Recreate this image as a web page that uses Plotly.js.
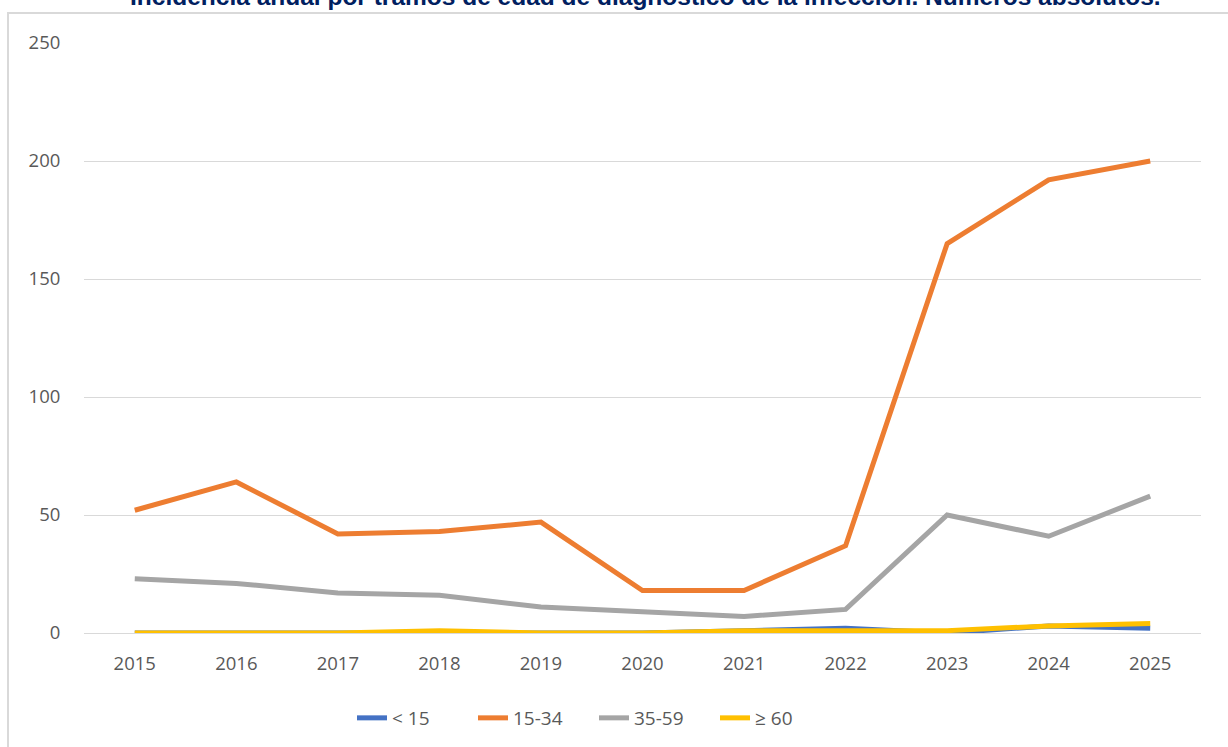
<!DOCTYPE html>
<html>
<head>
<meta charset="utf-8">
<script src="https://cdn.plot.ly/plotly-3.0.1.min.js"></script>
<style>
html,body{margin:0;padding:0;background:#fff;}
#chart{width:1228px;height:747px;}
</style>
</head>
<body>
<div id="chart"></div>
<script>
const years = ["2015","2016","2017","2018","2019","2020","2021","2022","2023","2024","2025"];
const seriesNames = ["< 15", "15-34", "35-59", "≥ 60"];
const under15 = [0, 0, 0, 0, 0, 0, 1, 2, 0, 3, 2];
const age15to34 = [52, 64, 42, 43, 47, 18, 18, 37, 165, 192, 200];
const age35to59 = [23, 21, 17, 16, 11, 9, 7, 10, 50, 41, 58];
const age60plus = [0, 0, 0, 1, 0, 0, 1, 1, 1, 3, 4];
const yTicks = [0, 50, 100, 150, 200, 250];
const titleText = "Incidencia anual por tramos de edad de diagnóstico de la infección. Números absolutos.";

const colors = ["#4472C4", "#ED7D31", "#A5A5A5", "#FFC000"];
const allSeries = [under15, age15to34, age35to59, age60plus];

const W = 1228, H = 747;
const M = {l: 84, r: 27, t: 43, b: 114, autoexpand: false};
const pw = W - M.l - M.r, ph = H - M.t - M.b;
const px2x = p => (p - M.l) / pw;
const px2y = p => (H - M.b - p) / ph;

const traces = allSeries.map((vals, i) => ({
  type: "scatter",
  mode: "lines",
  x: years,
  y: vals,
  name: seriesNames[i],
  line: {color: colors[i], width: 5, shape: "linear"},
  hoverinfo: "x+y+name"
}));

const layout = {
  width: W,
  height: H,
  margin: M,
  paper_bgcolor: "#ffffff",
  plot_bgcolor: "#ffffff",
  showlegend: true,
  legend: {
    orientation: "h",
    x: px2x(352), xanchor: "left",
    xref: "paper",
    y: px2y(718), yanchor: "middle",
    font: {family: "Open Sans, sans-serif", size: 19, color: "#595959"},
    entrywidth: 76,
    entrywidthmode: "pixels",
    tracegroupgap: 0
  },
  xaxis: {
    type: "category",
    range: [-0.5, years.length - 0.5],
    showgrid: false,
    zeroline: false,
    showline: false,
    ticks: "outside",
    ticklen: 14,
    tickcolor: "rgba(0,0,0,0)",
    tickfont: {family: "Open Sans, sans-serif", size: 18.5, color: "#595959"},
    fixedrange: true
  },
  yaxis: {
    range: [0, 250],
    tickvals: yTicks,
    ticktext: yTicks.map(String),
    showgrid: true,
    gridcolor: "#D9D9D9",
    gridwidth: 1,
    zeroline: true,
    zerolinecolor: "#D9D9D9",
    zerolinewidth: 1,
    showline: false,
    ticks: "outside",
    ticklen: 19,
    tickcolor: "rgba(0,0,0,0)",
    tickfont: {family: "Open Sans, sans-serif", size: 18.5, color: "#595959"},
    fixedrange: true
  },
  shapes: [{
    type: "rect",
    xref: "paper", yref: "paper",
    x0: px2x(8), x1: px2x(1240),
    y0: px2y(760), y1: px2y(13),
    line: {color: "#D9D9D9", width: 2},
    fillcolor: "rgba(0,0,0,0)",
    layer: "below"
  }],
  annotations: [{
    text: "<b>" + titleText + "</b>",
    xref: "paper", yref: "paper",
    x: px2x(645), xanchor: "center",
    y: px2y(-3), yanchor: "middle",
    showarrow: false,
    font: {family: "Liberation Sans, Arial, sans-serif", size: 24.5, color: "#002060"}
  }]
};

Plotly.newPlot("chart", traces, layout, {displayModeBar: false, staticPlot: true});
</script>
</body>
</html>
